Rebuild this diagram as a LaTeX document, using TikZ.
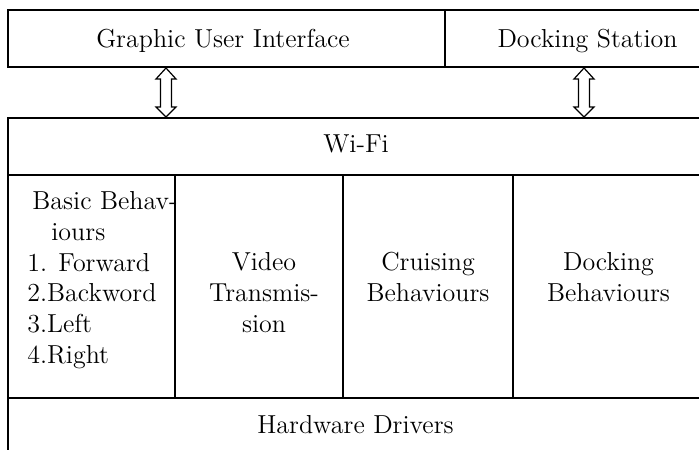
\documentclass[tikz,border=0pt]{standalone}
\usetikzlibrary{calc,fit}
\begin{document}
\begin{tikzpicture}[x=0.5pt,y=-0.5pt,
  box/.style={draw, line width=1pt, rectangle, inner sep=0pt},
  txt/.style={font=\fontsize{13}{15.4}\selectfont, inner sep=0pt},
  lbl/.style={txt, align=center, anchor=base},
  arr/.style={draw, line width=0.6pt, fill=white, line join=miter}]
\useasboundingbox (0,0) rectangle (699,449);
\clip (0,0) rectangle (699,449);
% boxes
\node[box, fit={(8,10) (445,67)}] (gui) {};
\node[box, fit={(445,10) (720,67)}] (dock) {};
\node[box, fit={(8,118) (720,175)}] (wifi) {};
\node[box, fit={(8,175) (175,398)}] (basic) {};
\node[box, fit={(175,175) (343,398)}] (video) {};
\node[box, fit={(343,175) (513,398)}] (cruise) {};
\node[box, fit={(513,175) (720,398)}] (dockb) {};
\node[box, fit={(8,398) (720,470)}] (hw) {};
% texts
\node[lbl] (tgui) at (223,47) {Graphic User Interface};
\node[lbl] (tdock) at (587.5,47) {Docking Station};
\node[lbl] (twifi) at (356,152) {Wi-Fi};
\node[lbl] (thw) at (355.5,433) {Hardware Drivers};
\node[txt, align=left, anchor=north west] (tbasic) at (27,191)
  {\hspace{2.5pt}Basic Behav-\\\hspace{12pt}iours\\1. Forward\\2.Backword\\3.Left\\4.Right};
\node[txt, align=center, anchor=north] (tvideo) at (264,252) {Video\\Transmis-\\sion};
\node[txt, align=center, anchor=north] (tcruise) at (428,252) {Cruising\\Behaviours};
\node[txt, align=center, anchor=north] (tdockb) at (608.5,252) {Docking\\Behaviours};
% double arrows
\coordinate (a1t) at ($(gui.south west)+(159,0)$);
\coordinate (a1b) at ($(wifi.north west)+(159,0)$);
\draw[arr] (a1t) -- ($(a1t)+(10,11)$) -- ($(a1t)+(5.5,11)$) -- ($(a1b)+(5.5,-10)$) -- ($(a1b)+(10,-10)$)
  -- (a1b) -- ($(a1b)+(-10,-10)$) -- ($(a1b)+(-5.5,-10)$) -- ($(a1t)+(-5.5,11)$) -- ($(a1t)+(-10,11)$) -- cycle;
\coordinate (a2t) at ($(dock.south west)+(140,0)$);
\coordinate (a2b) at ($(wifi.north west)+(577,0)$);
\draw[arr] (a2t) -- ($(a2t)+(10,11)$) -- ($(a2t)+(5.5,11)$) -- ($(a2b)+(5.5,-10)$) -- ($(a2b)+(10,-10)$)
  -- (a2b) -- ($(a2b)+(-10,-10)$) -- ($(a2b)+(-5.5,-10)$) -- ($(a2t)+(-5.5,11)$) -- ($(a2t)+(-10,11)$) -- cycle;
\end{tikzpicture}
\end{document}
